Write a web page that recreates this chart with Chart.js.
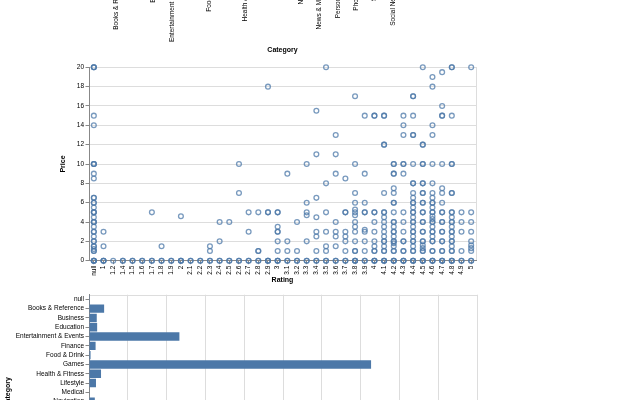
<!DOCTYPE html>
<html>
<head>
<meta charset="utf-8">
<script src="https://cdn.jsdelivr.net/npm/chart.js@4"></script>
<style>
  html, body { margin: 0; padding: 0; background: #fff; overflow: hidden; width: 640px; height: 400px; }
  canvas { position: absolute; left: 0; }
</style>
</head>
<body>
<canvas id="top" width="640" height="254" style="top:-196px"></canvas>
<canvas id="scatter" width="640" height="233" style="top:55px"></canvas>
<canvas id="bars" width="640" height="232" style="top:288px"></canvas>
<script>
// app categories and how many apps sit in each
const categories = ['null', 'Books & Reference', 'Business', 'Education', 'Entertainment & Events', 'Finance',
  'Food & Drink', 'Games', 'Health & Fitness', 'Lifestyle', 'Medical', 'Navigation', 'News & Magazines',
  'Personalization', 'Photography', 'Shopping', 'Social Networking', 'Sports', 'Travel', 'Utilities', 'Weather'];
const categoryCounts = [2, 39, 20, 21, 233, 17, 4, 727, 31, 18, 1, 15, 12, 25, 15, 8, 20, 18, 10, 45, 9];
const countTicks = [0, 1000, 100];

// rating buckets (x of the scatter) and the prices seen at each one
const ratings = ['null', '1', '1.2', '1.4', '1.5', '1.6', '1.7', '1.8', '1.9', '2', '2.1', '2.2', '2.3', '2.4',
  '2.5', '2.6', '2.7', '2.8', '2.9', '3', '3.1', '3.2', '3.3', '3.4', '3.5', '3.6', '3.7', '3.8', '3.9', '4',
  '4.1', '4.2', '4.3', '4.4', '4.5', '4.6', '4.7', '4.8', '4.9', '5'];
const pricesAtRating = [
  [20, 20, 20, 15, 14, 10, 10, 10, 9, 8.5, 6.5, 6.5, 6, 6, 5.5, 5, 5, 5, 4.5, 4, 4, 4, 3.5, 3, 3, 2.5, 2, 2, 1.5, 1.5, 1.2, 1, 1, 0, 0, 0, 0],
  [0, 0, 0, 1.5, 3],
  [0],
  [0, 0],
  [0, 0],
  [0, 0],
  [0, 0, 5],
  [0, 0, 1.5],
  [0, 0],
  [0, 0, 0, 4.6],
  [0, 0],
  [0, 0],
  [0, 0, 1, 1.5],
  [0, 0, 2, 4],
  [0, 0, 4],
  [0, 0, 7, 10],
  [0, 0, 3, 5],
  [0, 0, 1, 1, 5],
  [0, 0, 0, 5, 5, 18],
  [0, 0, 0, 1, 2, 3, 3, 3.5, 5, 5],
  [0, 0, 1, 2, 9],
  [0, 0, 1, 4],
  [0, 0, 2, 4.7, 5, 6, 10],
  [0, 0, 1, 2.5, 3, 4.5, 6.5, 11, 15.5],
  [0, 0, 1, 1.5, 3, 5, 8, 20],
  [0, 0, 1.5, 2.5, 3, 4, 9, 11, 13],
  [0, 0, 1, 2, 2.5, 3, 5, 5, 8.5],
  [0, 0, 0, 1, 1, 2, 3, 3.5, 4, 4.7, 5, 5.3, 6, 7, 10, 17],
  [0, 0, 1, 2, 3, 3.2, 5, 5, 6, 9, 15],
  [0, 0, 0, 1, 1, 1.5, 2, 3, 4, 5, 5, 15, 15],
  [0, 0, 0, 1, 1, 1.5, 2, 2, 2.5, 3, 3.5, 4, 4.5, 5, 5, 7, 12, 12, 15, 15],
  [0, 0, 0, 1, 1, 1.5, 1.8, 2, 2, 2.5, 3, 3, 3.5, 4, 4, 5, 6, 6, 7, 7.5, 9, 9, 10, 10],
  [0, 0, 0, 1, 1, 2, 2, 3, 4, 5, 9, 10, 10, 13, 14, 15],
  [0, 0, 0, 1, 1, 1.5, 2, 2, 2.5, 3, 3, 3.5, 4, 4, 4.5, 5, 5, 5.5, 6, 6, 6.5, 7, 8, 8, 10, 13, 13, 15, 17, 17],
  [0, 0, 0, 1, 1, 1.3, 1.6, 2, 2, 3, 3, 4, 4, 5, 5, 6, 6, 7, 7, 8, 8, 10, 10, 12, 12, 20],
  [0, 0, 0, 1, 1, 2, 2, 2.5, 3, 3, 3.5, 4, 4, 4.3, 4.6, 5, 5, 5.5, 6, 6, 6.5, 7, 8, 10, 13, 14, 18, 19],
  [0, 0, 0, 1, 1, 2, 2, 3, 3, 4, 4, 5, 5, 6, 7, 7.5, 10, 15, 15, 16, 19.5],
  [0, 0, 0, 1, 1, 1.5, 2, 2, 2.5, 3, 3, 3.5, 4, 4, 4.5, 5, 5, 7, 7, 10, 10, 15, 20, 20],
  [0, 0, 1, 3, 4, 5],
  [0, 0, 1, 1.3, 1.6, 2, 3, 4, 5, 20]
];
const priceTicks = [0, 20, 2];

const FONT = 'Liberation Sans, Arial, Helvetica, sans-serif';
const BLUE = '#4c78a8';
const labelFont = { family: FONT, size: 6.5 };
const titleFont = { family: FONT, size: 7, weight: 'bold' };

// vega draws a light frame round every plot
const viewFrame = {
  id: 'viewFrame',
  beforeDraw(chart) {
    const a = chart.chartArea;
    const ctx = chart.ctx;
    ctx.save();
    ctx.strokeStyle = '#ddd';
    ctx.lineWidth = 1;
    ctx.strokeRect(Math.round(a.left) + 0.5, Math.round(a.top) + 0.5, Math.round(a.right - a.left), Math.round(a.bottom - a.top));
    ctx.restore();
  }
};

const common = {
  responsive: false,
  animation: false,
  plugins: { legend: { display: false }, tooltip: { enabled: false } }
};

// top chart: only the bottom of its category labels shows
new Chart(document.getElementById('top'), {
  type: 'bar',
  data: { labels: categories, datasets: [{ data: categoryCounts, backgroundColor: BLUE }] },
  options: {
    ...common,
    layout: { padding: { left: 89, right: 164, top: 0, bottom: 0 } },
    scales: {
      x: {
        type: 'category',
        ticks: { minRotation: 90, maxRotation: 90, autoSkip: false, font: labelFont, color: '#000', padding: 1.5 },
        grid: { drawOnChartArea: false, offset: false, tickLength: 3.5, tickColor: '#888' },
        border: { color: '#888' },
        title: { display: true, text: 'Category', font: titleFont, color: '#000', padding: { top: 2, bottom: 4 } }
      },
      y: { display: false, beginAtZero: true }
    }
  }
});

// scatter of price against rating
const points = [];
ratings.forEach((r, i) => pricesAtRating[i].forEach(p => points.push({ x: r, y: p })));

new Chart(document.getElementById('scatter'), {
  type: 'scatter',
  data: {
    labels: ratings,
    datasets: [{
      data: points,
      pointRadius: 2.4,
      pointBorderWidth: 1.3,
      pointBorderColor: 'rgba(76,120,168,0.75)',
      pointBackgroundColor: 'rgba(0,0,0,0)',
      clip: false
    }]
  },
  options: {
    ...common,
    layout: { padding: { left: 55, right: 164, top: 12.3, bottom: 0 } },
    scales: {
      x: {
        type: 'category',
        labels: ratings,
        offset: true,
        afterFit(s) { s.height = 27.3; },
        ticks: { minRotation: 90, maxRotation: 90, autoSkip: false, font: labelFont, color: '#000', padding: 1.5 },
        grid: { drawOnChartArea: false, offset: false, tickLength: 3.5, tickColor: '#888' },
        border: { color: '#888' },
        title: { display: true, text: 'Rating', font: titleFont, color: '#000', padding: { top: 2, bottom: 4 } }
      },
      y: {
        min: priceTicks[0], max: priceTicks[1],
        afterFit(s) { s.width = 34; },
        ticks: { stepSize: priceTicks[2], font: labelFont, color: '#000', padding: 1.5 },
        grid: { color: '#ddd', tickLength: 3.5, tickColor: '#888' },
        border: { color: '#888' },
        title: { display: true, text: 'Price', font: titleFont, color: '#000', padding: { top: 4, bottom: 4 } }
      }
    }
  },
  plugins: [viewFrame]
});

// horizontal bars: apps per category
new Chart(document.getElementById('bars'), {
  type: 'bar',
  data: { labels: categories, datasets: [{ data: categoryCounts, backgroundColor: BLUE, barPercentage: 0.9, categoryPercentage: 1 }] },
  options: {
    ...common,
    indexAxis: 'y',
    layout: { padding: { left: 0, right: 163, top: 6.7, bottom: 0 } },
    scales: {
      x: {
        min: countTicks[0], max: countTicks[1],
        afterFit(s) { s.height = 30; },
        ticks: { stepSize: countTicks[2], font: labelFont, color: '#000' },
        grid: { color: '#ddd', tickLength: 3.5, tickColor: '#888' },
        border: { color: '#888' }
      },
      y: {
        type: 'category',
        afterFit(s) { s.width = 89; },
        ticks: { autoSkip: false, font: labelFont, color: '#000', padding: 1.5 },
        grid: { drawOnChartArea: false, offset: false, tickLength: 3.5, tickColor: '#888' },
        border: { color: '#888' },
        title: { display: true, text: 'Category', font: titleFont, color: '#000', padding: { top: 4, bottom: 4 } }
      }
    }
  },
  plugins: [viewFrame]
});
</script>
</body>
</html>
